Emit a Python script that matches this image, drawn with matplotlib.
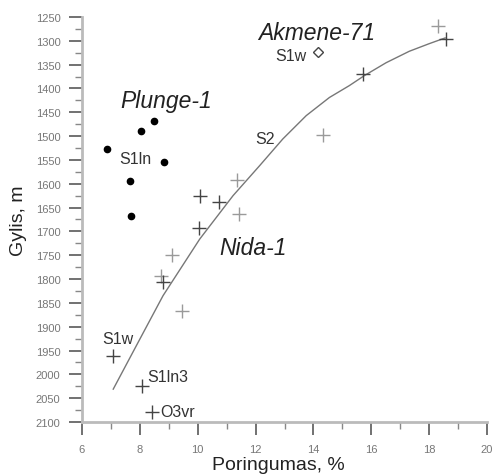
import matplotlib
matplotlib.use("Agg")
import matplotlib.pyplot as plt
from matplotlib.ticker import MultipleLocator

plt.rcParams['font.family'] = ['Liberation Sans', 'DejaVu Sans']

# Plunge-1 (filled dots)
plunge_x = [8.48, 8.03, 6.86, 8.83, 7.66, 7.69]
plunge_y = [1468, 1489, 1527, 1554, 1594, 1667]

# Akmene-71 (open diamond)
akmene_x = [14.14]
akmene_y = [1323]

# Nida-1 and others (crosses), darker
cross_dark_x = [18.59, 15.72, 10.72, 10.07, 10.03, 8.80, 7.07, 8.07, 8.41]
cross_dark_y = [1296, 1370, 1638, 1626, 1693, 1806, 1961, 2024, 2079]
# crosses, lighter
cross_light_x = [18.31, 14.34, 11.34, 11.41, 9.10, 8.72, 9.45]
cross_light_y = [1269, 1497, 1592, 1663, 1750, 1793, 1867]

# trend curve
curve_x = [7.08, 8.00, 8.80, 10.07, 11.22, 12.14, 12.94, 13.75, 14.55, 15.24,
           15.76, 16.51, 17.31, 18.00, 18.55]
curve_y = [2031, 1926, 1835, 1716, 1625, 1562, 1506, 1457, 1419, 1394,
           1373, 1346, 1322, 1306, 1294]

fig = plt.figure(figsize=(4.93, 4.77), dpi=100)
ax = fig.add_axes([0.1663, 0.1132, 0.8217, 0.8491])

ax.plot(curve_x, curve_y, color='#777777', lw=1.0, zorder=2)
ax.plot(cross_light_x, cross_light_y, linestyle='none', marker='+', ms=10,
        mew=1.0, color='#9a9a9a', zorder=3)
ax.plot(cross_dark_x, cross_dark_y, linestyle='none', marker='+', ms=10,
        mew=1.0, color='#444444', zorder=3)
ax.plot(plunge_x, plunge_y, linestyle='none', marker='o', ms=4.5,
        color='black', zorder=4)
ax.plot(akmene_x, akmene_y, linestyle='none', marker='D', ms=5,
        mfc='white', mec='#444444', mew=1.0, zorder=4)

ax.set_xlim(6, 20)
ax.set_ylim(2100, 1250)

ax.xaxis.set_major_locator(MultipleLocator(2))
ax.xaxis.set_minor_locator(MultipleLocator(1))
ax.yaxis.set_major_locator(MultipleLocator(50))
ax.yaxis.set_minor_locator(MultipleLocator(25))

for s in ['top', 'right']:
    ax.spines[s].set_visible(False)
for s in ['left', 'bottom']:
    ax.spines[s].set_color('#bbbbbb')
    ax.spines[s].set_linewidth(2.0)

ax.tick_params(which='major', direction='out', length=9.5, width=1.3,
               color='#666666', labelsize=8, labelcolor='#777777', pad=6)
ax.tick_params(which='minor', direction='out', length=5, width=1.0,
               color='#888888')

ax.set_xlabel('Poringumas, %', fontsize=14, color='#222222', labelpad=4)
ax.set_ylabel('Gylis, m', fontsize=14, color='#222222', labelpad=6)
ax.xaxis.set_label_coords(0.484, -0.085)

tk = dict(fontsize=16.5, style='italic', color='#222222', ha='center', va='center')
ax.text(8.9, 1426, 'Plunge-1', **tk)
ax.text(14.1, 1282, 'Akmene-71', **tk)
ax.text(11.9, 1733, 'Nida-1', **tk)

sk = dict(fontsize=11.5, color='#333333', va='center')
ax.text(7.83, 1548, 'S1ln', ha='center', **sk)
ax.text(13.75, 1330, 'S1w', ha='right', **sk)
ax.text(12.34, 1506, 'S2', ha='center', **sk)
ax.text(7.24, 1924, 'S1w', ha='center', **sk)
ax.text(8.24, 2005, 'S1ln3', ha='left', **sk)
ax.text(8.72, 2077, 'O3vr', ha='left', **sk)

fig.savefig('out.png', dpi=100)
